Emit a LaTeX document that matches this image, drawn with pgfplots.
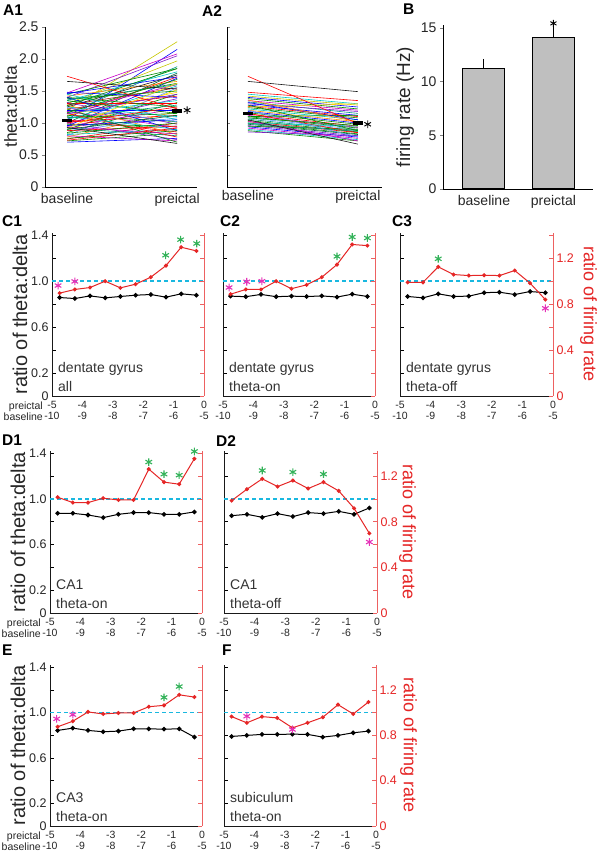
\documentclass[border=0pt]{standalone}
\usepackage{pgfplots}
\pgfplotsset{compat=1.18}
\usepackage{fontspec}
\setmainfont{Liberation Sans}
\definecolor{dRed}{rgb}{0.9,0.15,0.15}
\definecolor{aRed}{rgb}{0.93,0.38,0.38}
\definecolor{dCyan}{rgb}{0.1,0.72,0.88}
\definecolor{sGreen}{rgb}{0.2,0.7,0.35}
\definecolor{sMag}{rgb}{0.9,0.2,0.72}
\definecolor{cB}{rgb}{0,0,1}
\definecolor{cG}{rgb}{0,0.55,0}
\definecolor{cR}{rgb}{1,0,0}
\definecolor{cC}{rgb}{0,0.78,0.78}
\definecolor{cM}{rgb}{0.78,0,0.78}
\definecolor{cY}{rgb}{0.78,0.78,0}
\definecolor{cK}{rgb}{0.1,0.1,0.1}
\definecolor{cO}{rgb}{1,0.55,0}
\definecolor{cP}{rgb}{0.5,0.1,0.8}
\definecolor{cT}{rgb}{0,0.6,0.5}
\definecolor{cL}{rgb}{0.35,0.6,1}
\definecolor{cW}{rgb}{0.65,0.05,0.1}
\definecolor{cD}{rgb}{0,0.4,0.25}
\definecolor{cYe}{rgb}{1,0.85,0}
\tikzset{
  ann/.style={anchor=south west, align=left, inner sep=0pt, font=\fontsize{14}{19}\selectfont, text=black!80},
  plab/.style={anchor=north west, inner sep=0pt, font=\fontsize{15.5}{15.5}\selectfont\bfseries},
  rlab/.style={rotate=-90, anchor=south, inner sep=0pt, font=\fontsize{18}{18}\selectfont, text=dRed},
  rowlab/.style={anchor=north east, align=right, inner sep=0pt, font=\fontsize{10.5}{11}\selectfont, text=black!85},
}
\pgfplotsset{
  every axis/.append style={anchor=south west, scale only axis},
  lpan/.style={
    width=152pt, xmin=-5, xmax=0, ymin=0, ymax=1.42,
    axis x line=bottom, axis y line=left,
    axis line style={-, line width=0.9pt, black!90},
    xtick={-5,-4,-3,-2,-1,0},
    xticklabels={{-5\\-10},{-4\\-9},{-3\\-8},{-2\\-7},{-1\\-6},{0\\-5}},
    xticklabel style={align=center, font=\fontsize{10.5}{11}\selectfont, text=black!85, yshift=-2pt},
    xtick style={draw=none},
    ytick={0,0.2,0.4,0.6,0.8,1.0,1.2,1.4},
    yticklabels={},
    tick align=inside, major tick length=4pt,
    ytick style={black, line width=0.8pt},
    clip=false,
  },
  lpanlab/.style={
    yticklabels={0,0.2,,0.6,,1.0,,1.4},
    yticklabel style={font=\fontsize{12.5}{12.5}\selectfont, text=black!85},
    ylabel={ratio of theta:delta},
    ylabel style={font=\fontsize{20}{20}\selectfont, text=black!85},
    ylabel shift=-3pt,
  },
  rpan/.style={
    width=152pt, xmin=-5, xmax=0, ymin=0, ymax=1.42,
    axis x line=none, axis y line=right,
    axis line style={-, line width=0.9pt, aRed},
    ytick={0,0.2,0.4,0.6,0.8,1.0,1.2,1.4},
    yticklabels={},
    tick align=inside, major tick length=4pt,
    ytick style={aRed, line width=0.8pt},
    clip=false,
  },
  rpanlab/.style={
    yticklabels={0,,0.4,,0.8,,1.2,},
    yticklabel style={font=\fontsize{12.5}{12.5}\selectfont, text=dRed},
  },
  blk/.style={black, line width=1pt, mark=*, mark size=1.8pt},
  rdl/.style={dRed, line width=1pt, mark=*, mark size=1.5pt},
  dsh/.style={dCyan, line width=1.6pt, dash pattern=on 4pt off 3pt},
  gst/.style={only marks, mark=asterisk, mark size=3.8pt, sGreen, line width=1.1pt},
  mst/.style={only marks, mark=asterisk, mark size=3.8pt, sMag, line width=1.1pt},
}
\begin{document}
\begin{tikzpicture}[x=1pt,y=1pt]
\useasboundingbox (0,0) rectangle (597,853);
% panel letters
\node[plab] at (3,848) {A1};
\node[plab] at (202,848) {A2};
\node[plab] at (403,849) {B};
\node[plab] at (2,638) {C1};
\node[plab] at (220,638) {C2};
\node[plab] at (392,638) {C3};
\node[plab] at (2,418) {D1};
\node[plab] at (216,418) {D2};
\node[plab] at (2,208) {E};
\node[plab] at (222,208) {F};

% ---------------- A1 ----------------
\begin{axis}[at={(45pt,666pt)}, width=152pt, height=160pt,
  xmin=-0.2, xmax=1.18, ymin=0, ymax=2.5,
  axis x line=bottom, axis y line=left,
  axis line style={-, line width=0.9pt, black},
  xtick={0,1}, xticklabels={baseline,preictal}, xtick style={draw=none},
  ytick={0,0.5,1.0,1.5,2.0,2.5}, yticklabels={0,0.5,1.0,1.5,2.0,2.5},
  tick label style={font=\fontsize{14}{14}\selectfont, text=black!85},
  ylabel={theta:delta}, ylabel style={font=\fontsize{17.5}{17.5}\selectfont, text=black!85},
  ylabel shift=-5pt,
  tick align=outside, major tick length=3pt, ytick style={line width=0.8pt},
  clip=false, every axis plot/.append style={line width=0.6pt}]
\addplot[cY] coordinates {(0,1.20) (1,2.27)};
\addplot[cB] coordinates {(0,1.05) (1,2.15)};
\addplot[cM] coordinates {(0,1.47) (1,2.08)};
\addplot[cYe] coordinates {(0,0.88) (1,1.52)};
\addplot[cP] coordinates {(0,1.40) (1,2.05)};
\addplot[cY] coordinates {(0,1.30) (1,1.97)};
\addplot[cT] coordinates {(0,1.15) (1,1.88)};
\addplot[cG] coordinates {(0,1.45) (1,1.85)};
\addplot[cC] coordinates {(0,1.35) (1,1.80)};
\addplot[cD] coordinates {(0,1.00) (1,1.78)};
\addplot[cK] coordinates {(0,1.25) (1,1.75)};
\addplot[cR] coordinates {(0,1.10) (1,1.72)};
\addplot[cB] coordinates {(0,0.95) (1,1.70)};
\addplot[cO] coordinates {(0,1.42) (1,1.65)};
\addplot[cG] coordinates {(0,1.32) (1,1.62)};
\addplot[cM] coordinates {(0,1.18) (1,1.60)};
\addplot[cC] coordinates {(0,1.05) (1,1.58)};
\addplot[cL] coordinates {(0,0.80) (1,1.55)};
\addplot[cW] coordinates {(0,1.28) (1,1.55)};
\addplot[cG] coordinates {(0,1.38) (1,1.50)};
\addplot[cYe] coordinates {(0,1.12) (1,1.48)};
\addplot[cG] coordinates {(0,0.90) (1,1.45)};
\addplot[cR] coordinates {(0,1.22) (1,1.42)};
\addplot[cB] coordinates {(0,1.48) (1,1.40)};
\addplot[cP] coordinates {(0,1.00) (1,1.38)};
\addplot[cC] coordinates {(0,1.15) (1,1.35)};
\addplot[cG] coordinates {(0,0.85) (1,1.32)};
\addplot[cR] coordinates {(0,1.30) (1,1.30)};
\addplot[cT] coordinates {(0,1.08) (1,1.28)};
\addplot[cG] coordinates {(0,1.40) (1,1.25)};
\addplot[cM] coordinates {(0,0.95) (1,1.22)};
\addplot[cB] coordinates {(0,1.20) (1,1.20)};
\addplot[cO] coordinates {(0,0.78) (1,1.18)};
\addplot[cG] coordinates {(0,1.35) (1,1.15)};
\addplot[cR] coordinates {(0,1.02) (1,1.12)};
\addplot[cC] coordinates {(0,1.25) (1,1.10)};
\addplot[cL] coordinates {(0,0.88) (1,1.08)};
\addplot[cC] coordinates {(0,1.45) (1,1.05)};
\addplot[cG] coordinates {(0,1.12) (1,1.02)};
\addplot[cR] coordinates {(0,0.75) (1,1.00)};
\addplot[cP] coordinates {(0,1.32) (1,0.98)};
\addplot[cG] coordinates {(0,0.98) (1,0.95)};
\addplot[cM] coordinates {(0,1.18) (1,0.93)};
\addplot[cC] coordinates {(0,0.82) (1,0.90)};
\addplot[cB] coordinates {(0,1.40) (1,0.88)};
\addplot[cR] coordinates {(0,1.05) (1,0.86)};
\addplot[cG] coordinates {(0,0.72) (1,0.84)};
\addplot[cO] coordinates {(0,1.28) (1,0.82)};
\addplot[cT] coordinates {(0,0.92) (1,0.80)};
\addplot[cR] coordinates {(0,1.15) (1,0.78)};
\addplot[cB] coordinates {(0,0.70) (1,0.76)};
\addplot[cP] coordinates {(0,1.00) (1,0.74)};
\addplot[cM] coordinates {(0,0.80) (1,0.72)};
\addplot[cG] coordinates {(0,1.22) (1,0.70)};
\addplot[cR] coordinates {(0,0.88) (1,0.95)};
\addplot[cG] coordinates {(0,1.08) (1,1.15)};
\addplot[cB] coordinates {(0,0.96) (1,1.05)};
\addplot[cT] coordinates {(0,1.36) (1,1.60)};
\addplot[cG] coordinates {(0,0.76) (1,0.88)};
\addplot[cB] coordinates {(0,1.46) (1,1.72)};
\addplot[cC] coordinates {(0,1.10) (1,0.90)};
\addplot[cG] coordinates {(0,0.84) (1,1.00)};
\addplot[cG] coordinates {(0,1.27) (1,1.85)};
\addplot[cR] coordinates {(0,1.00) (1,1.25)};
\addplot[cM] coordinates {(0,0.94) (1,0.83)};
\addplot[cP] coordinates {(0,1.14) (1,1.45)};
\addplot[cR] coordinates {(0,0.73) (1,0.92)};
\addplot[cG] coordinates {(0,1.16) (1,1.68)};
\addplot[cL] coordinates {(0,1.24) (1,1.02)};
\addplot[cD] coordinates {(0,0.90) (1,1.12)};
\addplot[cYe] coordinates {(0,0.92) (1,1.62)};
\addplot[cR] coordinates {(0,1.73) (1,1.22)};
\addplot[cK] coordinates {(0,1.65) (1,1.53)};
\addplot[cK] coordinates {(0,0.93) (1,0.68)};
\addplot[black, line width=3.5pt] coordinates {(-0.045,1.04) (0.045,1.04)};
\addplot[black, line width=3.5pt] coordinates {(0.955,1.19) (1.045,1.19)};
\addplot[only marks, mark=asterisk, mark size=3.8pt, black, line width=0.9pt] coordinates {(1.09,1.2)};
\end{axis}

% ---------------- A2 ----------------
\begin{axis}[at={(227pt,666pt)}, width=155pt, height=160pt,
  xmin=-0.19, xmax=1.22, ymin=0, ymax=2.5,
  axis x line=bottom, axis y line=left,
  axis line style={-, line width=0.9pt, black},
  xtick={0,1}, xticklabels={baseline,preictal}, xtick style={draw=none},
  ytick={0,0.5,1.0,1.5,2.0,2.5}, yticklabels={},
  tick label style={font=\fontsize{14}{14}\selectfont, text=black!85},
  tick align=inside, major tick length=3pt, ytick style={line width=0.8pt},
  clip=false, every axis plot/.append style={line width=0.6pt}]
\addplot[cR] coordinates {(0,1.48) (1,1.35)};
\addplot[cC] coordinates {(0,1.45) (1,1.30)};
\addplot[cY] coordinates {(0,1.42) (1,1.28)};
\addplot[cB] coordinates {(0,1.40) (1,1.25)};
\addplot[cG] coordinates {(0,1.38) (1,1.22)};
\addplot[cM] coordinates {(0,1.35) (1,1.20)};
\addplot[cT] coordinates {(0,1.33) (1,1.15)};
\addplot[cP] coordinates {(0,1.30) (1,1.18)};
\addplot[cB] coordinates {(0,1.28) (1,1.12)};
\addplot[cR] coordinates {(0,1.26) (1,1.10)};
\addplot[cG] coordinates {(0,1.24) (1,1.08)};
\addplot[cC] coordinates {(0,1.22) (1,1.05)};
\addplot[cO] coordinates {(0,1.20) (1,1.02)};
\addplot[cB] coordinates {(0,1.18) (1,1.00)};
\addplot[cG] coordinates {(0,1.16) (1,0.98)};
\addplot[cR] coordinates {(0,1.14) (1,0.95)};
\addplot[cM] coordinates {(0,1.12) (1,0.93)};
\addplot[cG] coordinates {(0,1.10) (1,0.92)};
\addplot[cL] coordinates {(0,1.08) (1,0.90)};
\addplot[cT] coordinates {(0,1.06) (1,0.88)};
\addplot[cG] coordinates {(0,1.04) (1,0.86)};
\addplot[cR] coordinates {(0,1.02) (1,0.85)};
\addplot[cG] coordinates {(0,1.00) (1,0.83)};
\addplot[cD] coordinates {(0,0.98) (1,0.82)};
\addplot[cP] coordinates {(0,0.96) (1,0.80)};
\addplot[cB] coordinates {(0,0.94) (1,0.78)};
\addplot[cM] coordinates {(0,0.92) (1,0.76)};
\addplot[cC] coordinates {(0,0.90) (1,0.74)};
\addplot[cG] coordinates {(0,0.88) (1,0.72)};
\addplot[cP] coordinates {(0,0.86) (1,0.80)};
\addplot[cYe] coordinates {(0,1.25) (1,1.30)};
\addplot[cG] coordinates {(0,1.10) (1,1.12)};
\addplot[cB] coordinates {(0,1.32) (1,1.05)};
\addplot[cG] coordinates {(0,0.95) (1,0.90)};
\addplot[cR] coordinates {(0,1.15) (1,0.85)};
\addplot[cC] coordinates {(0,1.00) (1,0.95)};
\addplot[cL] coordinates {(0,1.20) (1,0.78)};
\addplot[cG] coordinates {(0,1.28) (1,0.88)};
\addplot[cO] coordinates {(0,1.36) (1,1.02)};
\addplot[cM] coordinates {(0,1.03) (1,0.72)};
\addplot[cG] coordinates {(0,1.08) (1,0.96)};
\addplot[cT] coordinates {(0,0.99) (1,0.87)};
\addplot[cR] coordinates {(0,1.73) (1,0.99)};
\addplot[cK] coordinates {(0,1.65) (1,1.49)};
\addplot[cK] coordinates {(0,1.05) (1,0.67)};
\addplot[black, line width=3.5pt] coordinates {(-0.045,1.15) (0.045,1.15)};
\addplot[black, line width=3.5pt] coordinates {(0.955,1.0) (1.045,1.0)};
\addplot[only marks, mark=asterisk, mark size=3.8pt, black, line width=0.9pt] coordinates {(1.09,0.98)};
\end{axis}

% ---------------- B ----------------
\begin{axis}[at={(443pt,664pt)}, width=150pt, height=164pt,
  xmin=0.41, xmax=2.57, ymin=0, ymax=15.3,
  axis x line=bottom, axis y line=left,
  axis line style={-, line width=0.9pt, black},
  xtick={1,2}, xticklabels={baseline,preictal}, xtick style={draw=none},
  ytick={0,5,10,15}, yticklabels={0,5,10,15},
  tick label style={font=\fontsize{14}{14}\selectfont, text=black!85},
  ylabel={firing rate (Hz)}, ylabel style={font=\fontsize{19}{19}\selectfont, text=black!85},
  tick align=outside, major tick length=3pt, ytick style={line width=0.8pt},
  clip=false]
\addplot[ybar, bar width=42pt, fill=black!25, draw=black, line width=1pt,
  error bars/.cd, y dir=plus, y explicit,
  error bar style={line width=1pt, black},
  error mark options={black, mark size=2.5pt, line width=1pt}]
  coordinates {(1,11.2) +- (0,0.7) (2,14.15) +- (0,0.8)};
\addplot[only marks, mark=asterisk, mark size=3.5pt, black, line width=0.9pt] coordinates {(2,15.45)};
\end{axis}

% ---------------- C1 ----------------
\begin{axis}[lpan, lpanlab, at={(52pt,457pt)}, height=163pt]
\addplot[dsh] coordinates {(-5,1) (0,1)};
\addplot[blk] coordinates {(-4.75,0.858) (-4.25,0.849) (-3.75,0.872) (-3.25,0.855) (-2.75,0.867) (-2.25,0.878) (-1.75,0.884) (-1.25,0.861) (-0.75,0.890) (-0.25,0.878)};
\node[ann] at ([xshift=6pt,yshift=4pt]rel axis cs:0,0) {dentate gyrus\\all};
\node[rowlab] at ([xshift=-9pt,yshift=-5.5pt]rel axis cs:0,0) {preictal\\baseline};
\end{axis}
\begin{axis}[rpan, at={(52pt,457pt)}, height=163pt]
\addplot[rdl] coordinates {(-4.75,0.896) (-4.25,0.928) (-3.75,0.945) (-3.25,1.0) (-2.75,0.942) (-2.25,0.974) (-1.75,1.035) (-1.25,1.136) (-0.75,1.296) (-0.25,1.264)};
\addplot[gst] coordinates {(-1.26,1.226) (-0.77,1.362) (-0.24,1.328)};
\addplot[mst] coordinates {(-4.8,0.962) (-4.25,0.998)};
\end{axis}

% ---------------- C2 ----------------
\begin{axis}[lpan, at={(223pt,457pt)}, height=163pt]
\addplot[dsh] coordinates {(-5,1) (0,1)};
\addplot[blk] coordinates {(-4.75,0.870) (-4.25,0.865) (-3.75,0.885) (-3.25,0.865) (-2.75,0.870) (-2.25,0.866) (-1.75,0.872) (-1.25,0.862) (-0.75,0.887) (-0.25,0.867)};
\node[ann] at ([xshift=6pt,yshift=4pt]rel axis cs:0,0) {dentate gyrus\\theta-on};
\end{axis}
\begin{axis}[rpan, at={(223pt,457pt)}, height=163pt]
\addplot[rdl] coordinates {(-4.75,0.887) (-4.25,0.928) (-3.75,0.928) (-3.25,1.0) (-2.75,0.935) (-2.25,0.968) (-1.75,1.035) (-1.25,1.145) (-0.75,1.32) (-0.25,1.31)};
\addplot[gst] coordinates {(-1.25,1.216) (-0.75,1.385) (-0.25,1.376)};
\addplot[mst] coordinates {(-4.8,0.945) (-4.22,0.995) (-3.72,1.0)};
\end{axis}

% ---------------- C3 ----------------
\begin{axis}[lpan, at={(400pt,457pt)}, width=153pt, height=163pt]
\addplot[dsh] coordinates {(-5,1) (0,1)};
\addplot[blk] coordinates {(-4.75,0.867) (-4.25,0.855) (-3.75,0.89) (-3.25,0.867) (-2.75,0.87) (-2.25,0.9) (-1.75,0.904) (-1.25,0.884) (-0.75,0.91) (-0.25,0.9)};
\node[ann] at ([xshift=6pt,yshift=4pt]rel axis cs:0,0) {dentate gyrus\\theta-off};
\end{axis}
\begin{axis}[rpan, rpanlab, at={(400pt,457pt)}, width=153pt, height=163pt]
\addplot[rdl] coordinates {(-4.75,0.99) (-4.25,0.99) (-3.75,1.125) (-3.25,1.058) (-2.75,1.049) (-2.25,1.052) (-1.75,1.049) (-1.25,1.093) (-0.75,0.983) (-0.25,0.84)};
\addplot[gst] coordinates {(-3.75,1.195)};
\addplot[mst] coordinates {(-0.25,0.764)};
\node[rlab] at ([xshift=27pt]rel axis cs:1,0.5) {ratio of firing rate};
\end{axis}

% ---------------- D1 ----------------
\begin{axis}[lpan, lpanlab, at={(50pt,240pt)}, height=162pt]
\addplot[dsh] coordinates {(-5,1) (0,1)};
\addplot[blk] coordinates {(-4.75,0.874) (-4.25,0.874) (-3.75,0.859) (-3.25,0.836) (-2.75,0.865) (-2.25,0.88) (-1.75,0.88) (-1.25,0.865) (-0.75,0.865) (-0.25,0.886)};
\node[ann] at ([xshift=6pt,yshift=4pt]rel axis cs:0,0) {CA1\\theta-on};
\node[rowlab] at ([xshift=-9pt,yshift=-5.5pt]rel axis cs:0,0) {preictal\\baseline};
\end{axis}
\begin{axis}[rpan, at={(50pt,240pt)}, height=162pt]
\addplot[rdl] coordinates {(-4.75,1.015) (-4.25,0.968) (-3.75,0.968) (-3.25,1.006) (-2.75,0.991) (-2.25,0.991) (-1.75,1.261) (-1.25,1.147) (-0.75,1.129) (-0.25,1.352)};
\addplot[gst] coordinates {(-1.75,1.323) (-1.25,1.217) (-0.75,1.208) (-0.25,1.416)};
\end{axis}

% ---------------- D2 ----------------
\begin{axis}[lpan, at={(224pt,240pt)}, width=153pt, height=162pt]
\addplot[dsh] coordinates {(-5,1) (0,1)};
\addplot[blk] coordinates {(-4.75,0.853) (-4.25,0.865) (-3.75,0.839) (-3.25,0.871) (-2.75,0.845) (-2.25,0.88) (-1.75,0.871) (-1.25,0.891) (-0.75,0.865) (-0.25,0.921)};
\node[ann] at ([xshift=6pt,yshift=4pt]rel axis cs:0,0) {CA1\\theta-off};
\end{axis}
\begin{axis}[rpan, rpanlab, at={(224pt,240pt)}, width=153pt, height=162pt]
\addplot[rdl] coordinates {(-4.75,0.985) (-4.25,1.085) (-3.75,1.176) (-3.25,1.108) (-2.75,1.161) (-2.25,1.091) (-1.75,1.147) (-1.25,1.07) (-0.75,0.918) (-0.25,0.698)};
\addplot[gst] coordinates {(-3.75,1.249) (-2.75,1.235) (-1.75,1.217)};
\addplot[mst] coordinates {(-0.25,0.622)};
\node[rlab] at ([xshift=22pt]rel axis cs:1,0.5) {ratio of firing rate};
\end{axis}

% ---------------- E ----------------
\begin{axis}[lpan, lpanlab, at={(50pt,27pt)}, height=161pt]
\addplot[dsh] coordinates {(-5,1) (0,1)};
\addplot[blk] coordinates {(-4.75,0.843) (-4.25,0.863) (-3.75,0.843) (-3.25,0.831) (-2.75,0.837) (-2.25,0.857) (-1.75,0.857) (-1.25,0.854) (-0.75,0.857) (-0.25,0.784)};
\node[ann] at ([xshift=6pt,yshift=4pt]rel axis cs:0,0) {CA3\\theta-on};
\node[rowlab] at ([xshift=-9pt,yshift=-5.5pt]rel axis cs:0,0) {preictal\\baseline};
\end{axis}
\begin{axis}[rpan, at={(50pt,27pt)}, height=161pt]
\addplot[rdl] coordinates {(-4.75,0.875) (-4.25,0.924) (-3.75,1.006) (-3.25,0.988) (-2.75,0.997) (-2.25,0.997) (-1.75,1.052) (-1.25,1.064) (-0.75,1.157) (-0.25,1.137)};
\addplot[gst] coordinates {(-1.25,1.134) (-0.75,1.23)};
\addplot[mst] coordinates {(-4.78,0.945) (-4.25,0.982)};
\end{axis}

% ---------------- F ----------------
\begin{axis}[lpan, at={(224pt,27pt)}, height=161pt]
\addplot[dsh] coordinates {(-5,1) (0,1)};
\addplot[blk] coordinates {(-4.75,0.79) (-4.25,0.799) (-3.75,0.808) (-3.25,0.808) (-2.75,0.81) (-2.25,0.808) (-1.75,0.784) (-1.25,0.799) (-0.75,0.822) (-0.25,0.837)};
\node[ann] at ([xshift=6pt,yshift=4pt]rel axis cs:0,0) {subiculum\\theta-on};
\end{axis}
\begin{axis}[rpan, rpanlab, at={(224pt,27pt)}, height=161pt]
\addplot[rdl] coordinates {(-4.75,0.965) (-4.25,0.91) (-3.75,0.965) (-3.25,0.953) (-2.75,0.866) (-2.25,0.91) (-1.75,0.959) (-1.25,1.07) (-0.75,0.988) (-0.25,1.093)};
\addplot[mst] coordinates {(-4.25,0.968) (-2.75,0.851)};
\node[rlab] at ([xshift=24pt]rel axis cs:1,0.5) {ratio of firing rate};
\end{axis}
\end{tikzpicture}
\end{document}
